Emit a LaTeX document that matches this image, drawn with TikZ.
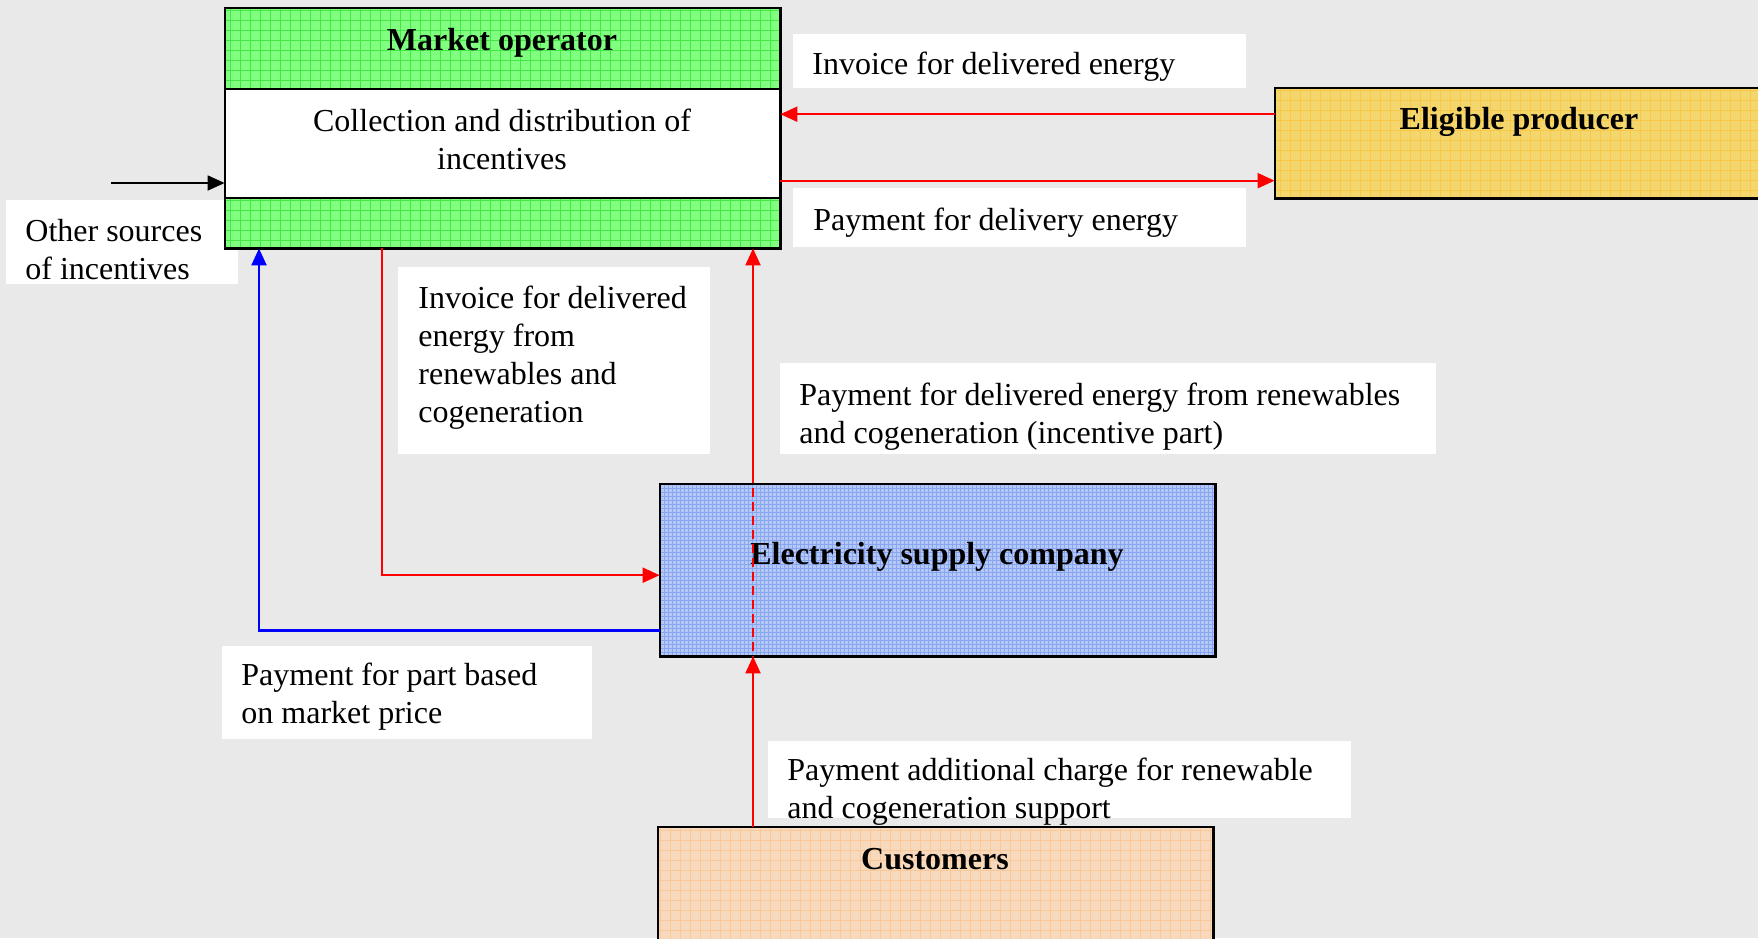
\documentclass[tikz,border=0pt]{standalone}
\usepackage{fontspec}
\setmainfont{Liberation Serif}
\usetikzlibrary{arrows.meta,fit,calc}
\definecolor{bg}{RGB}{233,233,233}
\definecolor{mogreen}{RGB}{128,255,128}
\definecolor{mogrid}{RGB}{70,230,70}
\definecolor{epyellow}{RGB}{244,214,110}
\definecolor{epgrid}{RGB}{248,200,70}
\definecolor{escblue}{RGB}{182,200,245}
\definecolor{escgrid}{RGB}{135,165,240}
\definecolor{cupeach}{RGB}{247,218,190}
\definecolor{cugrid}{RGB}{250,200,150}
\begin{document}
\begin{tikzpicture}[x=0.5pt,y=-0.5pt,
  every node/.style={font=\fontsize{16}{19}\selectfont, inner sep=0pt},
  lbl/.style={fill=white},
  txt/.style={anchor=west, align=left},
  btxt/.style={font=\fontsize{16}{19}\selectfont\bfseries},
  border/.style={draw=black, line width=1.1pt},
  redarr/.style={draw=red, line width=1.1pt, -{Triangle[length=8.5pt,width=7.5pt]}},
  bluearr/.style={draw=blue, line width=1.1pt, -{Triangle[length=8.5pt,width=7.5pt]}},
  blkarr/.style={draw=black, line width=0.9pt, -{Triangle[length=8.5pt,width=7.5pt]}},
  reddash/.style={draw=red, line width=0.9pt, dash pattern=on 4.5pt off 2.5pt},
]
\clip (0,0) rectangle (1758,938);
\fill[bg] (0,0) rectangle (1758,938);

% label boxes
\node[fit={(6,200) (238,284)}, lbl] (l3) {};
\node[txt] (t3) at (25,250) {Other sources\\of incentives};
\node[fit={(793,34) (1246,88)}, lbl] (l1) {};
\node[txt] (t1) at (812,67) {Invoice for delivered energy};
\node[fit={(793,188) (1246,247)}, lbl] (l2) {};
\node[txt] (t2) at (813,223) {Payment for delivery energy};
\node[fit={(398,267) (710,454)}, lbl] (l4) {};
\node[txt] (t4) at (418,358) {Invoice for delivered\\energy from\\renewables and\\cogeneration};
\node[fit={(780,363) (1436,454)}, lbl] (l5) {};
\node[txt] (t5) at (799,417) {Payment for delivered energy from renewables\\and cogeneration (incentive part)};
\node[fit={(222,646) (592,739)}, lbl] (l6) {};
\node[txt] (t6) at (241,697) {Payment for part based\\on market price};
\node[fit={(768,741) (1351,818)}, lbl] (l7) {};

% Market operator
\node[fit={(225,8) (780,248)}, fill=mogreen] (mo) {};
\begin{scope}
  \clip (mo.south west) rectangle (mo.north east);
  \draw[mogrid, line width=0.3pt, step=5pt] (mo.south west) grid (mo.north east);
\end{scope}
\node[fit={(225,89) (780,198)}, fill=white, border] (moc) {};
\draw[border] (mo.south west) rectangle (mo.north east);
\node[btxt] (motitle) at (502,43) {Market operator};
\node[align=center] (motext) at (502,139) {Collection and distribution of\\incentives};

% Eligible producer
\node[fit={(1275,88) (1775,198)}, fill=epyellow] (ep) {};
\begin{scope}
  \clip (ep.south west) rectangle (ep.north east);
  \draw[epgrid, line width=0.3pt, step=5pt] (ep.south west) grid (ep.north east);
\end{scope}
\draw[border] (ep.south west) rectangle (ep.north east);
\node[btxt] (eptitle) at (1519,122) {Eligible producer};

% Electricity supply company
\node[fit={(660,484) (1215,656)}, fill=escblue] (esc) {};
\begin{scope}
  \clip (esc.south west) rectangle (esc.north east);
  \draw[escgrid, line width=0.2pt, step=2pt] (esc.south west) grid (esc.north east);
\end{scope}
\draw[border] (esc.south west) rectangle (esc.north east);
\node[btxt] (esctitle) at (937,557) {Electricity supply company};

% Customers
\node[fit={(658,827) (1213,960)}, fill=cupeach] (cu) {};
\begin{scope}
  \clip (cu.south west) rectangle (cu.north east);
  \draw[cugrid, line width=0.3pt, step=5pt] (cu.south west) grid (cu.north east);
\end{scope}
\draw[border] (cu.south west) rectangle (cu.north east);
\node[btxt] (cutitle) at (935,859) {Customers};

\node[txt] (t7) at (787,792) {Payment additional charge for renewable\\and cogeneration support};

% connectors
\coordinate (p1) at ($(ep.north west)!0.24!(ep.south west)$);
\draw[redarr] (p1) -- (p1 -| mo.east);
\coordinate (p2) at ($(ep.north west)!0.84!(ep.south west)$);
\draw[redarr] (p2 -| mo.east) -- (p2);

\coordinate (os) at (111,183);
\draw[blkarr] (os) -- (os -| mo.west);

\coordinate (ein) at ($(esc.north west)!0.53!(esc.south west)$);
\draw[redarr] (382,0 |- mo.south) -- (382,0 |- ein) -- (ein);

\coordinate (bout) at ($(esc.north west)!0.85!(esc.south west)$);
\draw[bluearr] (bout) -- (259,0 |- bout) -- (259,0 |- mo.south);

\coordinate (vx) at (753,0);
\draw[redarr] ($(vx |- esc.north)+(0,-10)$) -- (vx |- mo.south);
\draw[reddash] ($(vx |- esc.north)+(0,-10)$) -- (vx |- esc.south);
\draw[redarr] (vx |- cu.north) -- (vx |- esc.south);
\end{tikzpicture}
\end{document}
